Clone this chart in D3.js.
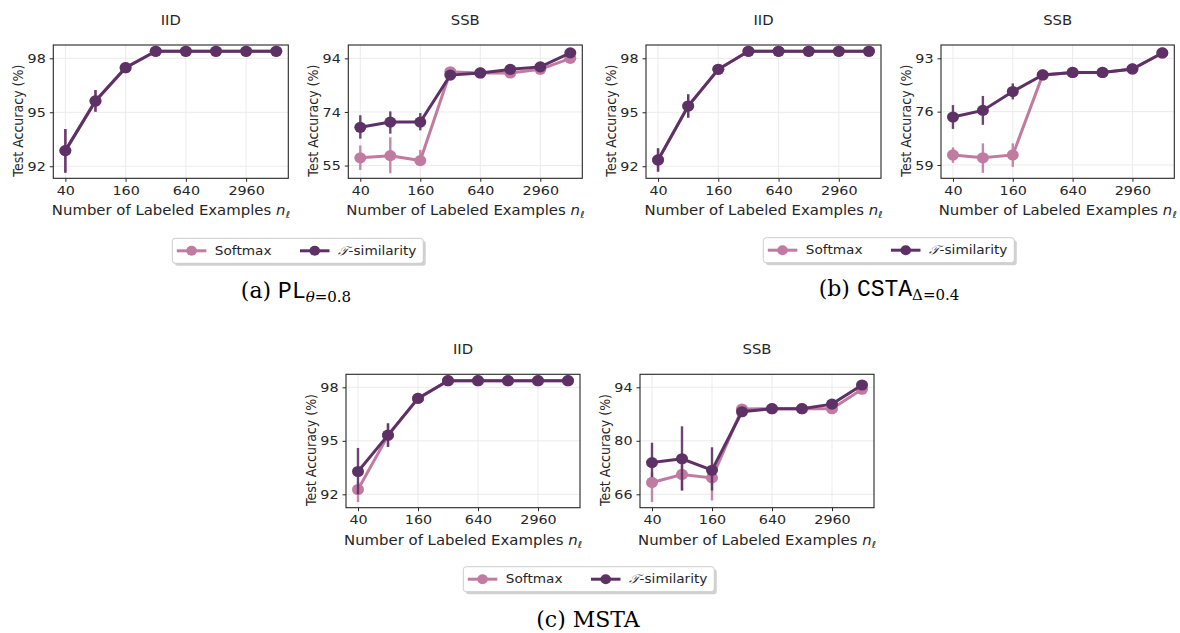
<!DOCTYPE html>
<html><head><meta charset="utf-8">
<script src="https://cdn.jsdelivr.net/npm/d3@7"></script>
<style>
html,body{margin:0;padding:0;background:#fff;}
svg{display:block;}
</style></head>
<body>
<svg id="fig" width="1180" height="633"></svg>
<script>
// ---------------- DATA ----------------
const categories = ["40","80","160","320","640","1280","2960","5920"];
const seriesNames = ["Softmax", "\u{1D4AF}-similarity"];

// (a) PL, IID
const aIIDSoft   = [92.87, 95.63, 97.48, 98.39, 98.39, 98.39, 98.39, 98.39];
const aIIDSoftLo = [91.64, 95.03, 97.30, 98.33, 98.35, 98.35, 98.35, 98.35];
const aIIDSoftHi = [94.07, 96.24, 97.62, 98.44, 98.43, 98.43, 98.43, 98.43];
const aIIDTau    = [92.87, 95.63, 97.48, 98.39, 98.39, 98.39, 98.39, 98.39];
const aIIDTauLo  = [91.64, 95.03, 97.30, 98.33, 98.35, 98.35, 98.35, 98.35];
const aIIDTauHi  = [94.07, 96.24, 97.62, 98.44, 98.43, 98.43, 98.43, 98.43];
const aIIDTicks = [92, 95, 98];
const aIIDTickLabels = ["92", "95", "98"];

// (a) PL, SSB
const aSSBSoft   = [57.8, 58.6, 56.8, 89.1, 88.7, 88.7, 90.0, 94.0];
const aSSBSoftLo = [53.4, 52.2, 55.0, 88.6, 88.3, 88.2, 89.5, 93.6];
const aSSBSoftHi = [62.3, 65.3, 60.7, 89.6, 89.1, 89.2, 90.5, 94.4];
const aSSBTau    = [68.9, 70.8, 70.8, 87.9, 88.7, 90.0, 90.9, 96.0];
const aSSBTauLo  = [64.8, 66.6, 67.8, 87.4, 88.3, 89.6, 90.4, 95.6];
const aSSBTauHi  = [73.3, 74.7, 74.1, 88.4, 89.1, 90.4, 91.4, 96.4];
const aSSBTicks = [55, 74.5, 94];
const aSSBTickLabels = ["55", "74", "94"];

// (b) CSTA, IID
const bIIDSoft   = [92.35, 95.35, 97.39, 98.39, 98.39, 98.39, 98.39, 98.39];
const bIIDSoftLo = [91.70, 94.70, 97.20, 98.33, 98.35, 98.35, 98.35, 98.35];
const bIIDSoftHi = [93.00, 96.00, 97.55, 98.44, 98.43, 98.43, 98.43, 98.43];
const bIIDTau    = [92.35, 95.35, 97.39, 98.39, 98.39, 98.39, 98.39, 98.39];
const bIIDTauLo  = [91.70, 94.70, 97.20, 98.33, 98.35, 98.35, 98.35, 98.35];
const bIIDTauHi  = [93.00, 96.00, 97.55, 98.44, 98.43, 98.43, 98.43, 98.43];
const bIIDTicks = [92, 95, 98];
const bIIDTickLabels = ["92", "95", "98"];

// (b) CSTA, SSB
const bSSBSoft   = [62.2, 61.3, 62.2, 87.7, 88.5, 88.5, 89.6, 94.7];
const bSSBSoftLo = [59.7, 56.5, 58.4, 87.2, 88.0, 88.0, 89.1, 94.3];
const bSSBSoftHi = [64.6, 65.9, 65.9, 88.2, 89.0, 89.0, 90.1, 95.1];
const bSSBTau    = [74.3, 76.4, 82.4, 87.7, 88.5, 88.5, 89.6, 94.7];
const bSSBTauLo  = [70.5, 71.8, 79.9, 87.2, 88.0, 88.0, 89.1, 94.3];
const bSSBTauHi  = [78.1, 81.0, 85.0, 88.2, 89.0, 89.0, 90.1, 95.1];
const bSSBTicks = [59, 76, 93];
const bSSBTickLabels = ["59", "76", "93"];

// (c) MSTA, IID
const cIIDSoft   = [92.27, 95.30, 97.38, 98.37, 98.37, 98.37, 98.37, 98.37];
const cIIDSoftLo = [91.57, 94.66, 97.20, 98.31, 98.33, 98.33, 98.33, 98.33];
const cIIDSoftHi = [92.70, 95.98, 97.55, 98.42, 98.41, 98.41, 98.41, 98.41];
const cIIDTau    = [93.28, 95.32, 97.38, 98.37, 98.37, 98.37, 98.37, 98.37];
const cIIDTauLo  = [92.00, 94.66, 97.20, 98.31, 98.33, 98.33, 98.33, 98.33];
const cIIDTauHi  = [94.60, 95.98, 97.55, 98.42, 98.41, 98.41, 98.41, 98.41];
const cIIDTicks = [92, 95, 98];
const cIIDTickLabels = ["92", "95", "98"];

// (c) MSTA, SSB
const cSSBSoft   = [69.1, 71.2, 70.3, 88.3, 88.4, 88.4, 88.4, 93.5];
const cSSBSoftLo = [64.0, 67.0, 64.4, 87.8, 87.9, 87.9, 87.9, 93.1];
const cSSBSoftHi = [71.7, 74.0, 72.3, 88.8, 88.9, 88.9, 88.9, 93.9];
const cSSBTau    = [74.3, 75.3, 72.3, 87.6, 88.4, 88.4, 89.6, 94.6];
const cSSBTauLo  = [70.5, 67.0, 67.0, 87.1, 87.9, 87.9, 89.1, 94.2];
const cSSBTauHi  = [79.5, 83.8, 78.3, 88.1, 88.9, 88.9, 90.1, 95.0];
const cSSBTicks = [66, 80, 94];
const cSSBTickLabels = ["66", "80", "94"];

// ---------------- STYLE / LAYOUT ----------------
const colSoft = "#c27ba0";
const colTau  = "#5e3166";
const txtCol  = "#262626";
const sans = "DejaVu Sans, sans-serif";
const SX = 1.12;   // horizontal stretch of the original raster figure

const panels = [
  {title:"IID", x:53.3,  y:45,    w:235, h:133.3, dom:[91.33, 98.74], ticks:aIIDTicks, tl:aIIDTickLabels,
   s:[aIIDSoft,aIIDSoftLo,aIIDSoftHi], t:[aIIDTau,aIIDTauLo,aIIDTauHi]},
  {title:"SSB", x:348.3, y:45,    w:234, h:133.3, dom:[50.36, 98.86], ticks:aSSBTicks, tl:aSSBTickLabels,
   s:[aSSBSoft,aSSBSoftLo,aSSBSoftHi], t:[aSSBTau,aSSBTauLo,aSSBTauHi]},
  {title:"IID", x:646,   y:45,    w:235, h:133.3, dom:[91.33, 98.74], ticks:bIIDTicks, tl:bIIDTickLabels,
   s:[bIIDSoft,bIIDSoftLo,bIIDSoftHi], t:[bIIDTau,bIIDTauLo,bIIDTauHi]},
  {title:"SSB", x:941,   y:45,    w:233.3, h:133.3, dom:[54.76, 97.24], ticks:bSSBTicks, tl:bSSBTickLabels,
   s:[bSSBSoft,bSSBSoftLo,bSSBSoftHi], t:[bSSBTau,bSSBTauLo,bSSBTauHi]},
  {title:"IID", x:346,   y:374.3, w:234, h:133.4, dom:[91.25, 98.73], ticks:cIIDTicks, tl:cIIDTickLabels,
   s:[cIIDSoft,cIIDSoftLo,cIIDSoftHi], t:[cIIDTau,cIIDTauLo,cIIDTauHi]},
  {title:"SSB", x:640,   y:374.3, w:234, h:133.4, dom:[62.5, 97.4], ticks:cSSBTicks, tl:cSSBTickLabels,
   s:[cSSBSoft,cSSBSoftLo,cSSBSoftHi], t:[cSSBTau,cSSBTauLo,cSSBTauHi]},
];

const svg = d3.select("#fig");

function sText(parent, x, y, size, anchor) {
  return parent.append("text")
    .attr("transform", `translate(${x},${y}) scale(${SX},1)`)
    .attr("text-anchor", anchor || "middle")
    .attr("fill", txtCol).style("font-family", sans).style("font-size", size + "px");
}

panels.forEach(p => {
  const g = svg.append("g").attr("transform", `translate(${p.x},${p.y})`);
  const x = d3.scalePoint().domain(categories).range([0, p.w]).padding(0.4);
  const y = d3.scaleLinear().domain(p.dom).range([p.h, 0]);
  const xTickVals = categories.filter((c,i) => i % 2 === 0);

  // grid
  g.append("g").selectAll("line").data(xTickVals).join("line")
    .attr("x1", d => x(d)).attr("x2", d => x(d)).attr("y1", 0).attr("y2", p.h)
    .attr("stroke", "#ebebeb").attr("stroke-width", 1);
  g.append("g").selectAll("line").data(p.ticks).join("line")
    .attr("x1", 0).attr("x2", p.w).attr("y1", d => y(d)).attr("y2", d => y(d))
    .attr("stroke", "#ebebeb").attr("stroke-width", 1);

  // series
  const drawSeries = (arr, col) => {
    const [v, lo, hi] = arr;
    const sg = g.append("g");
    sg.selectAll("line").data(categories).join("line")
      .attr("x1", d => x(d)).attr("x2", d => x(d))
      .attr("y1", (d,i) => y(lo[i])).attr("y2", (d,i) => y(hi[i]))
      .attr("stroke", col).attr("stroke-width", 2.4).attr("opacity", 0.9);
    sg.append("path").datum(v)
      .attr("d", d3.line().x((d,i) => x(categories[i])).y(d => y(d)))
      .attr("fill", "none").attr("stroke", col).attr("stroke-width", 3);
    sg.selectAll("ellipse").data(v).join("ellipse")
      .attr("cx", (d,i) => x(categories[i])).attr("cy", d => y(d)).attr("rx", 6).attr("ry", 5.6)
      .attr("fill", col);
  };
  drawSeries(p.s, colSoft);
  drawSeries(p.t, colTau);

  // axes
  const yAx = d3.axisLeft(y).tickValues(p.ticks).tickFormat((d,i) => p.tl[i]).tickSize(3.5).tickPadding(3.5);
  const xAx = d3.axisBottom(x).tickValues(xTickVals).tickSize(3.5).tickPadding(4);
  const ya = g.append("g").call(yAx);
  const xa = g.append("g").attr("transform", `translate(0,${p.h})`).call(xAx);
  [ya, xa].forEach(a => {
    a.select(".domain").remove();
    a.selectAll(".tick line").attr("stroke", txtCol).attr("stroke-width", 1);
    a.selectAll(".tick text").attr("fill", txtCol).style("font-family", sans).style("font-size", "12.8px");
  });
  ya.selectAll(".tick text").attr("x", 0).attr("transform", `translate(-7.5,0) scale(${SX},1)`);
  xa.selectAll(".tick text").attr("transform", `scale(${SX},1)`);

  // frame
  g.append("rect").attr("x", 0).attr("y", 0).attr("width", p.w).attr("height", p.h)
    .attr("fill", "none").attr("stroke", txtCol).attr("stroke-width", 1.1);

  // title
  sText(g, p.w/2, -20, 13.2).text(p.title);

  // y label
  g.append("text").attr("transform", `translate(-35,${p.h/2 + 9}) scale(${SX},1) rotate(-90)`)
    .attr("text-anchor", "middle").attr("dy", "0.35em")
    .attr("fill", txtCol).style("font-family", sans).style("font-size", "12.6px").text("Test Accuracy (%)");

  // x label
  const xl = sText(g, p.w/2, p.h + 37, 13.3);
  xl.append("tspan").text("Number of Labeled Examples ");
  xl.append("tspan").style("font-style", "italic").text("n");
  xl.append("tspan").attr("dy", 3).style("font-size", "9.5px").style("font-style", "italic").text("\u2113");
});

// legends
const legends = [{x:172.3, y:238.3}, {x:763.3, y:237.7}, {x:463.3, y:566.7}];
legends.forEach(L => {
  const g = svg.append("g").attr("transform", `translate(${L.x},${L.y})`);
  const W = 251, H = 25;
  g.append("rect").attr("x", 2.5).attr("y", 2.5).attr("width", W).attr("height", H).attr("rx", 3)
    .attr("fill", "#b3b3b3").attr("opacity", 0.6);
  g.append("rect").attr("x", 0).attr("y", 0).attr("width", W).attr("height", H).attr("rx", 3)
    .attr("fill", "#fff").attr("stroke", "#cccccc").attr("stroke-width", 1);
  const items = [{name: seriesNames[0], col: colSoft, x0: 4.5}, {name: seriesNames[1], col: colTau, x0: 127.7}];
  items.forEach(it => {
    g.append("line").attr("x1", it.x0).attr("x2", it.x0 + 29.5).attr("y1", H/2).attr("y2", H/2)
      .attr("stroke", it.col).attr("stroke-width", 3);
    g.append("ellipse").attr("cx", it.x0 + 14.75).attr("cy", H/2).attr("rx", 5.3).attr("ry", 5).attr("fill", it.col);
    const t = sText(g, it.x0 + 38, H/2, 12.2, "start").attr("dy", "0.35em");
    if (it.name.startsWith("\u{1D4AF}")) {
      t.append("tspan").style("font-style", "italic").style("font-family", "DejaVu Serif, serif").text("\u{1D4AF}");
      t.append("tspan").text(it.name.slice(2));
    } else t.text(it.name);
  });
});

// captions
const serif = "DejaVu Serif, serif";
const mono = "Liberation Mono, monospace";
function caption(cx, by, label, tt, sub) {
  const t = svg.append("text").attr("x", cx).attr("y", by).attr("text-anchor", "middle")
    .attr("fill", "#000").style("font-family", serif).style("font-size", "22px");
  t.append("tspan").text(label + " ");
  if (tt) t.append("tspan").style("font-family", mono).style("font-size", "23px").text(tt);
  if (sub) {
    const s = t.append("tspan").attr("dy", 4).style("font-size", "15px");
    s.append("tspan").style("font-style", "italic").text(sub[0]);
    s.append("tspan").text(sub[1]);
  }
}
caption(296, 298, "(a)", "PL", ["\u03B8", "=0.8"]);
caption(889, 296, "(b)", "CSTA", ["", "\u0394=0.4"]);
caption(588, 627, "(c) MSTA", null, null);
</script>
</body></html>
